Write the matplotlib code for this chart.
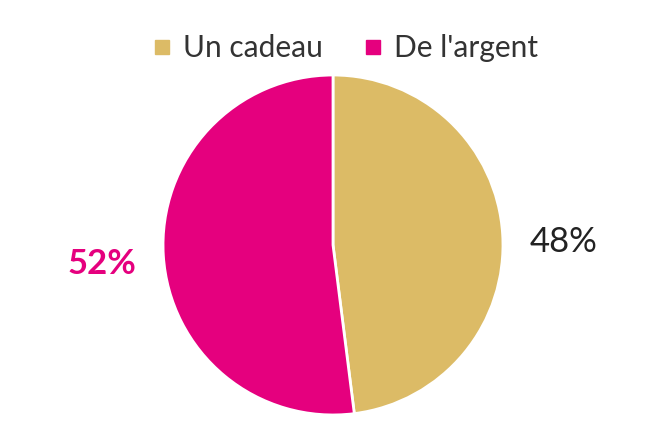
import matplotlib.pyplot as plt
from matplotlib.lines import Line2D

# data
labels = ["Un cadeau", "De l'argent"]
shares = [48, 52]
colors = ["#dcbb66", "#e5007e"]
pct_colors = ["#222222", "#e5007e"]
pct_weights = ["normal", "bold"]
pct_drop = [0.07, 0.025]  # small nudge down, as in the original

plt.rcParams['font.family'] = ['Lato', 'DejaVu Sans']

fig = plt.figure(figsize=(6.55, 4.32), dpi=100)
ax = fig.add_axes([0.2489, 0.0394, 0.519, 0.787])

wedges, texts, autotexts = ax.pie(
    shares, colors=colors, startangle=90, counterclock=False,
    autopct='%.0f%%', pctdistance=1.36,
    wedgeprops=dict(edgecolor='white', linewidth=2),
)
for t, c, w, d in zip(autotexts, pct_colors, pct_weights, pct_drop):
    t.set_color(c)
    t.set_fontsize(25)
    t.set_fontweight(w)
    x, y = t.get_position()
    t.set_position((x, y - d))
ax.set_xlim(-1, 1)
ax.set_ylim(-1, 1)
ax.set_aspect('equal')

handles = [Line2D([], [], marker='s', linestyle='', markersize=10,
                  markerfacecolor=c, markeredgecolor=c) for c in colors]
fig.legend(handles, labels, loc='center', bbox_to_anchor=(0.525, 1 - 48 / 432),
           ncol=2, frameon=False, fontsize=21.5, handletextpad=0.3,
           columnspacing=1.3, labelcolor='#333333', handlelength=0.8)

fig.savefig('out.png', dpi=100)
